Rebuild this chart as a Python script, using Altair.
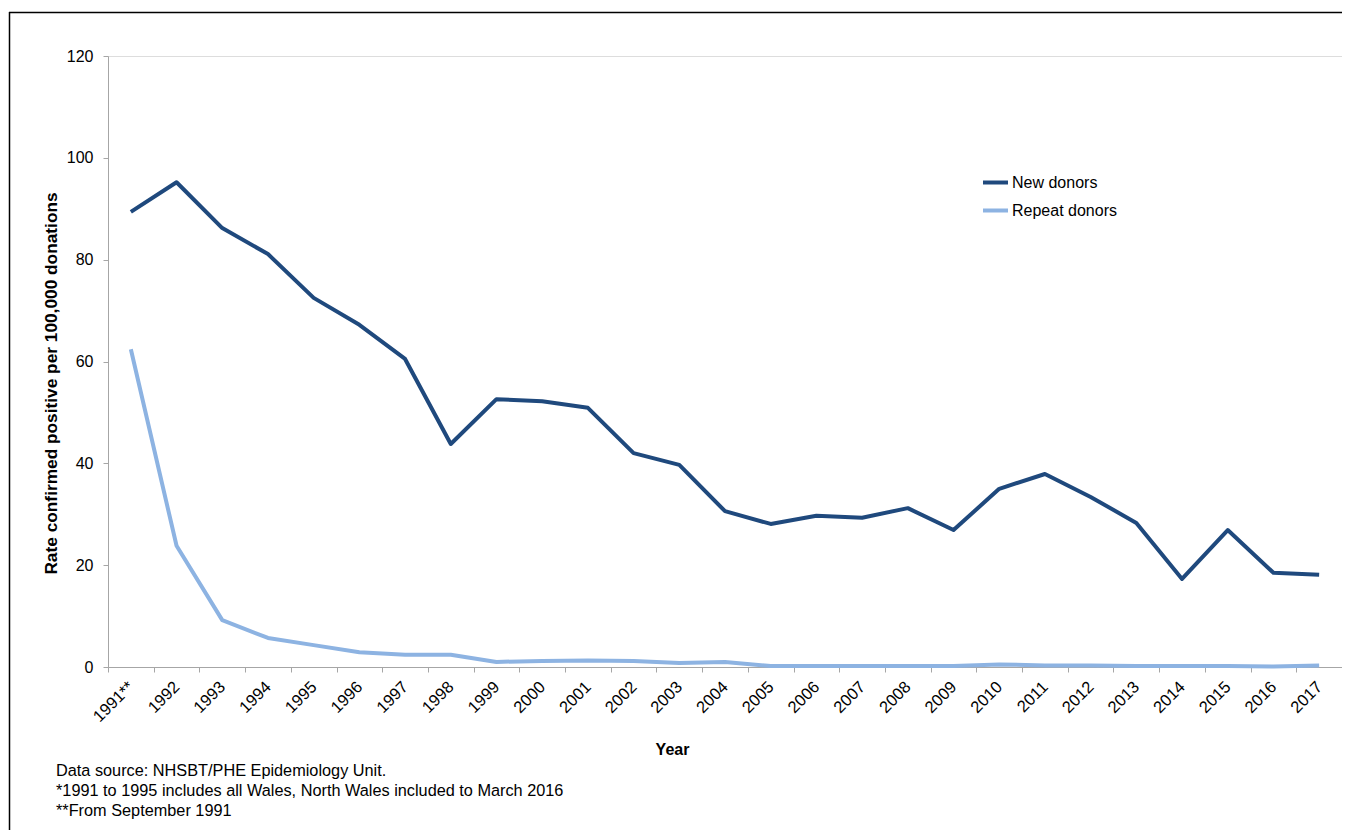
import altair as alt
import pandas as pd

years = ["1991**", "1992", "1993", "1994", "1995", "1996", "1997", "1998", "1999",
         "2000", "2001", "2002", "2003", "2004", "2005", "2006", "2007", "2008",
         "2009", "2010", "2011", "2012", "2013", "2014", "2015", "2016", "2017"]
new_donors = [89.4, 95.2, 86.2, 81.1, 72.5, 67.2, 60.5, 43.8, 52.6,
              52.2, 50.9, 42.0, 39.7, 30.6, 28.1, 29.7, 29.3, 31.2,
              26.9, 35.0, 37.9, 33.4, 28.3, 17.3, 26.9, 18.5, 18.1]
repeat_donors = [62.4, 23.8, 9.2, 5.7, 4.3, 2.9, 2.4, 2.4, 1.0,
                 1.2, 1.3, 1.2, 0.8, 1.0, 0.2, 0.2, 0.2, 0.2,
                 0.2, 0.5, 0.3, 0.3, 0.2, 0.2, 0.2, 0.1, 0.3]
series_names = ["New donors", "Repeat donors"]
series_colors = ["#1f497d", "#8db3e2"]
footnotes = ["Data source: NHSBT/PHE Epidemiology Unit.",
             "*1991 to 1995 includes all Wales, North Wales included to March 2016",
             "**From September 1991"]

rows = []
for i, y in enumerate(years):
    rows.append({"year": y, "series": series_names[0], "value": new_donors[i], "order": i})
    rows.append({"year": y, "series": series_names[1], "value": repeat_donors[i], "order": i})
df = pd.DataFrame(rows)

FONT = "Liberation Sans"
W, H = 1234, 611

lines = alt.Chart(df).mark_line(strokeWidth=4, strokeJoin="round").encode(
    x=alt.X("year:O", sort=years,
            scale=alt.Scale(type="band", paddingInner=0, paddingOuter=0),
            axis=alt.Axis(title="Year", labelAngle=-45, labelAlign="right",
                          labelBaseline="middle", labelPadding=12, tickBand="extent",
                          tickSize=5, tickColor="#a6a6a6", domainColor="#a6a6a6",
                          labelFontSize=16.5, labelColor="#000000", labelFont=FONT,
                          titleFont=FONT, titleFontSize=16, titleFontWeight="bold",
                          titlePadding=16, titleX=564, titleColor="#000000", grid=False)),
    y=alt.Y("value:Q", scale=alt.Scale(domain=[0, 120], nice=False),
            axis=alt.Axis(title="Rate confirmed positive per 100,000 donations",
                          values=[0, 20, 40, 60, 80, 100, 120],
                          tickSize=5, tickColor="#a6a6a6", domainColor="#a6a6a6",
                          labelPadding=10, labelFontSize=16, labelColor="#000000",
                          labelFont=FONT, titleFont=FONT, titleFontSize=17.3,
                          titleFontWeight="bold", titleColor="#000000",
                          titlePadding=6, titleY=327, grid=False)),
    color=alt.Color("series:N", sort=series_names,
                    scale=alt.Scale(domain=series_names, range=series_colors),
                    legend=alt.Legend(title=None, orient="none", legendX=873, legendY=112,
                                      symbolType="stroke", symbolSize=625,
                                      symbolStrokeWidth=4, labelFontSize=16,
                                      labelFont=FONT, labelColor="#000000",
                                      labelOffset=2, rowPadding=5)),
    order="order:Q",
)

foots = []
for i, t in enumerate(footnotes):
    foots.append(alt.Chart(pd.DataFrame({"text": [t]})).mark_text(
        align="left", baseline="middle", fontSize=16.3, font=FONT, color="#000000"
    ).encode(x=alt.value(-52), y=alt.value(715 + 20 * i), text="text:N"))

frame_top = alt.Chart(pd.DataFrame({"a": [0]})).mark_rule(color="#000000", strokeWidth=1.5).encode(
    x=alt.value(-99), x2=alt.value(W + 20), y=alt.value(-43.5))
frame_left = alt.Chart(pd.DataFrame({"a": [0]})).mark_rule(color="#000000", strokeWidth=1.5).encode(
    x=alt.value(-98.5), y=alt.value(-44), y2=alt.value(H + 200))

chart = alt.layer(frame_top, frame_left, lines, *foots).properties(
    width=W, height=H,
    autosize=alt.AutoSizeParams(type="none"),
    padding={"left": 100, "top": 48, "right": 0, "bottom": 163},
).configure_view(stroke=None).configure(background="#ffffff")

chart.save("out.html", embed_options={"renderer": "svg", "actions": False})
